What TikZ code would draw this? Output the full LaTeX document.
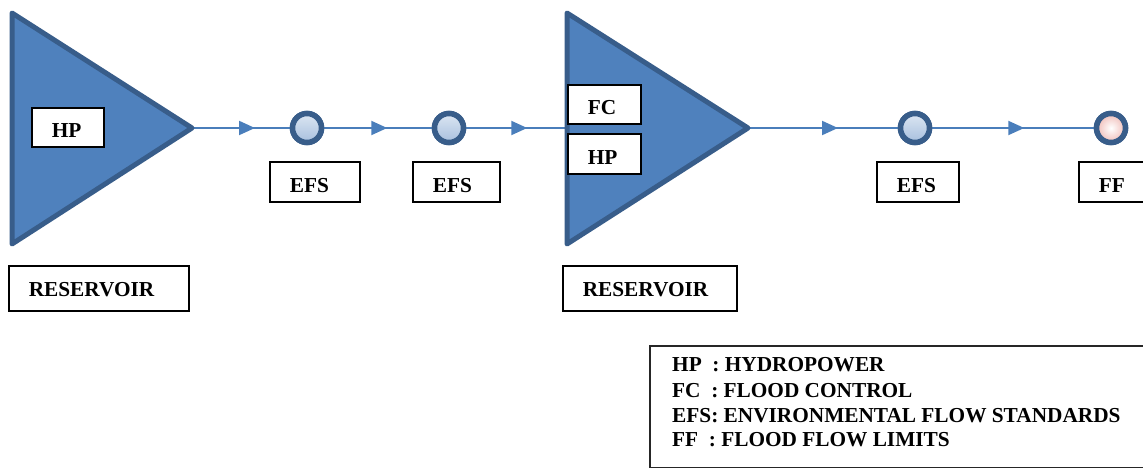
\documentclass[tikz,border=0pt]{standalone}
\usepackage{fontspec}
\setmainfont{Liberation Serif}[BoldFont={Liberation Serif Bold}]
\newfontfamily\tnrbold{Liberation Serif Bold}
\usetikzlibrary{arrows.meta,decorations.markings}
\definecolor{resfill}{HTML}{4F81BD}
\definecolor{resline}{HTML}{385D8A}
\definecolor{flowc}{HTML}{4A7EBB}
\definecolor{efsTop}{HTML}{DCE6F2}
\definecolor{efsBot}{HTML}{A7BFDE}
\definecolor{ffEdge}{HTML}{F0BDB8}
\begin{document}
\begin{tikzpicture}[x=1pt,y=-1pt,
  lblfont/.style={font=\fontsize{21.3}{25}\selectfont\tnrbold},
  lbl/.style={draw=black, line width=1.6pt, fill=white, inner xsep=20pt, inner ysep=0pt,
    align=left, anchor=north west, lblfont, text width=#1},
  h41/.style={text height=29.5pt, text depth=10pt},
  h42/.style={text height=31pt, text depth=9.4pt},
  h47/.style={text height=31pt, text depth=14.4pt},
  flowline/.style={color=flowc, line width=2pt,
    decoration={markings, mark=at position #1 with {\arrow{Triangle[length=16pt,width=14pt]}}},
    postaction={decorate}},
  reservoir/.style={fill=resfill, draw=resline, line width=5pt, line join=round},
  efsnode/.style={circle, draw=resline, line width=5.5pt, minimum size=29pt, inner sep=0pt,
    top color=efsTop, bottom color=efsBot},
  ffnode/.style={circle, draw=resline, line width=5.5pt, minimum size=29pt, inner sep=0pt,
    inner color=white, outer color=ffEdge},
  legtext/.style={anchor=base west, inner sep=0pt, lblfont}
]
\useasboundingbox (0,0) rectangle (1143,468);
\clip (0,0) rectangle (1143,468);

% named points of the reservoirs
\coordinate (t1) at (192,128);
\coordinate (t2w) at (567,128);
\coordinate (t2) at (748,128);

% control points
\node[efsnode] (c1) at (307,128) {};
\node[efsnode] (c2) at (449,128) {};
\node[efsnode] (c3) at (915,128) {};
\node[ffnode]  (c4) at (1111,128) {};

% flows
\draw[flowline=63pt] (t1) -- (c1);
\draw[flowline=63pt] (c1) -- (c2);
\draw[flowline=61pt] (c2) -- (t2w);
\draw[flowline=90pt] (t2) -- (c3);
\draw[flowline=92pt] (c3) -- (c4);

% reservoirs
\filldraw[reservoir] (12,13) -- (12,244) -- (t1) -- cycle;
\filldraw[reservoir] (567,13) -- (567,244) -- (t2) -- cycle;

% redraw circles on top
\node[efsnode] at (c1) {};
\node[efsnode] at (c2) {};
\node[efsnode] at (c3) {};
\node[ffnode]  at (c4) {};

% labels
\node[lbl=32pt, h41] (hp1) at (31,107) {HP};
\node[lbl=140pt, h47] (res1) at (8,265) {RESERVOIR};
\node[lbl=50pt, h42] (efs1) at (269,161) {EFS};
\node[lbl=47pt, h42] (efs2) at (412,161) {EFS};
\node[lbl=33pt, h41] (fc2) at (567,84) {FC};
\node[lbl=33pt, h42] (hp2) at (567,133) {HP};
\node[lbl=134pt, h47] (res2) at (562,265) {RESERVOIR};
\node[lbl=42pt, h42] (efs3) at (876,161) {EFS};
\node[lbl=48pt, h42] (ff) at (1078,161) {FF};

% legend
\node[draw=black!85, line width=1.5pt, anchor=north west, minimum width=530pt, minimum height=122pt, inner sep=0pt] (legend) at (649,345) {};
\node[legtext] (l1) at (672,371) {HP\ \ : HYDROPOWER};
\node[legtext] (l2) at (672,397) {FC\ \ : FLOOD CONTROL};
\node[legtext] (l3) at (672,422) {EFS: ENVIRONMENTAL FLOW STANDARDS};
\node[legtext] (l4) at (672,446) {FF\ \ : FLOOD FLOW LIMITS};
\end{tikzpicture}
\end{document}
